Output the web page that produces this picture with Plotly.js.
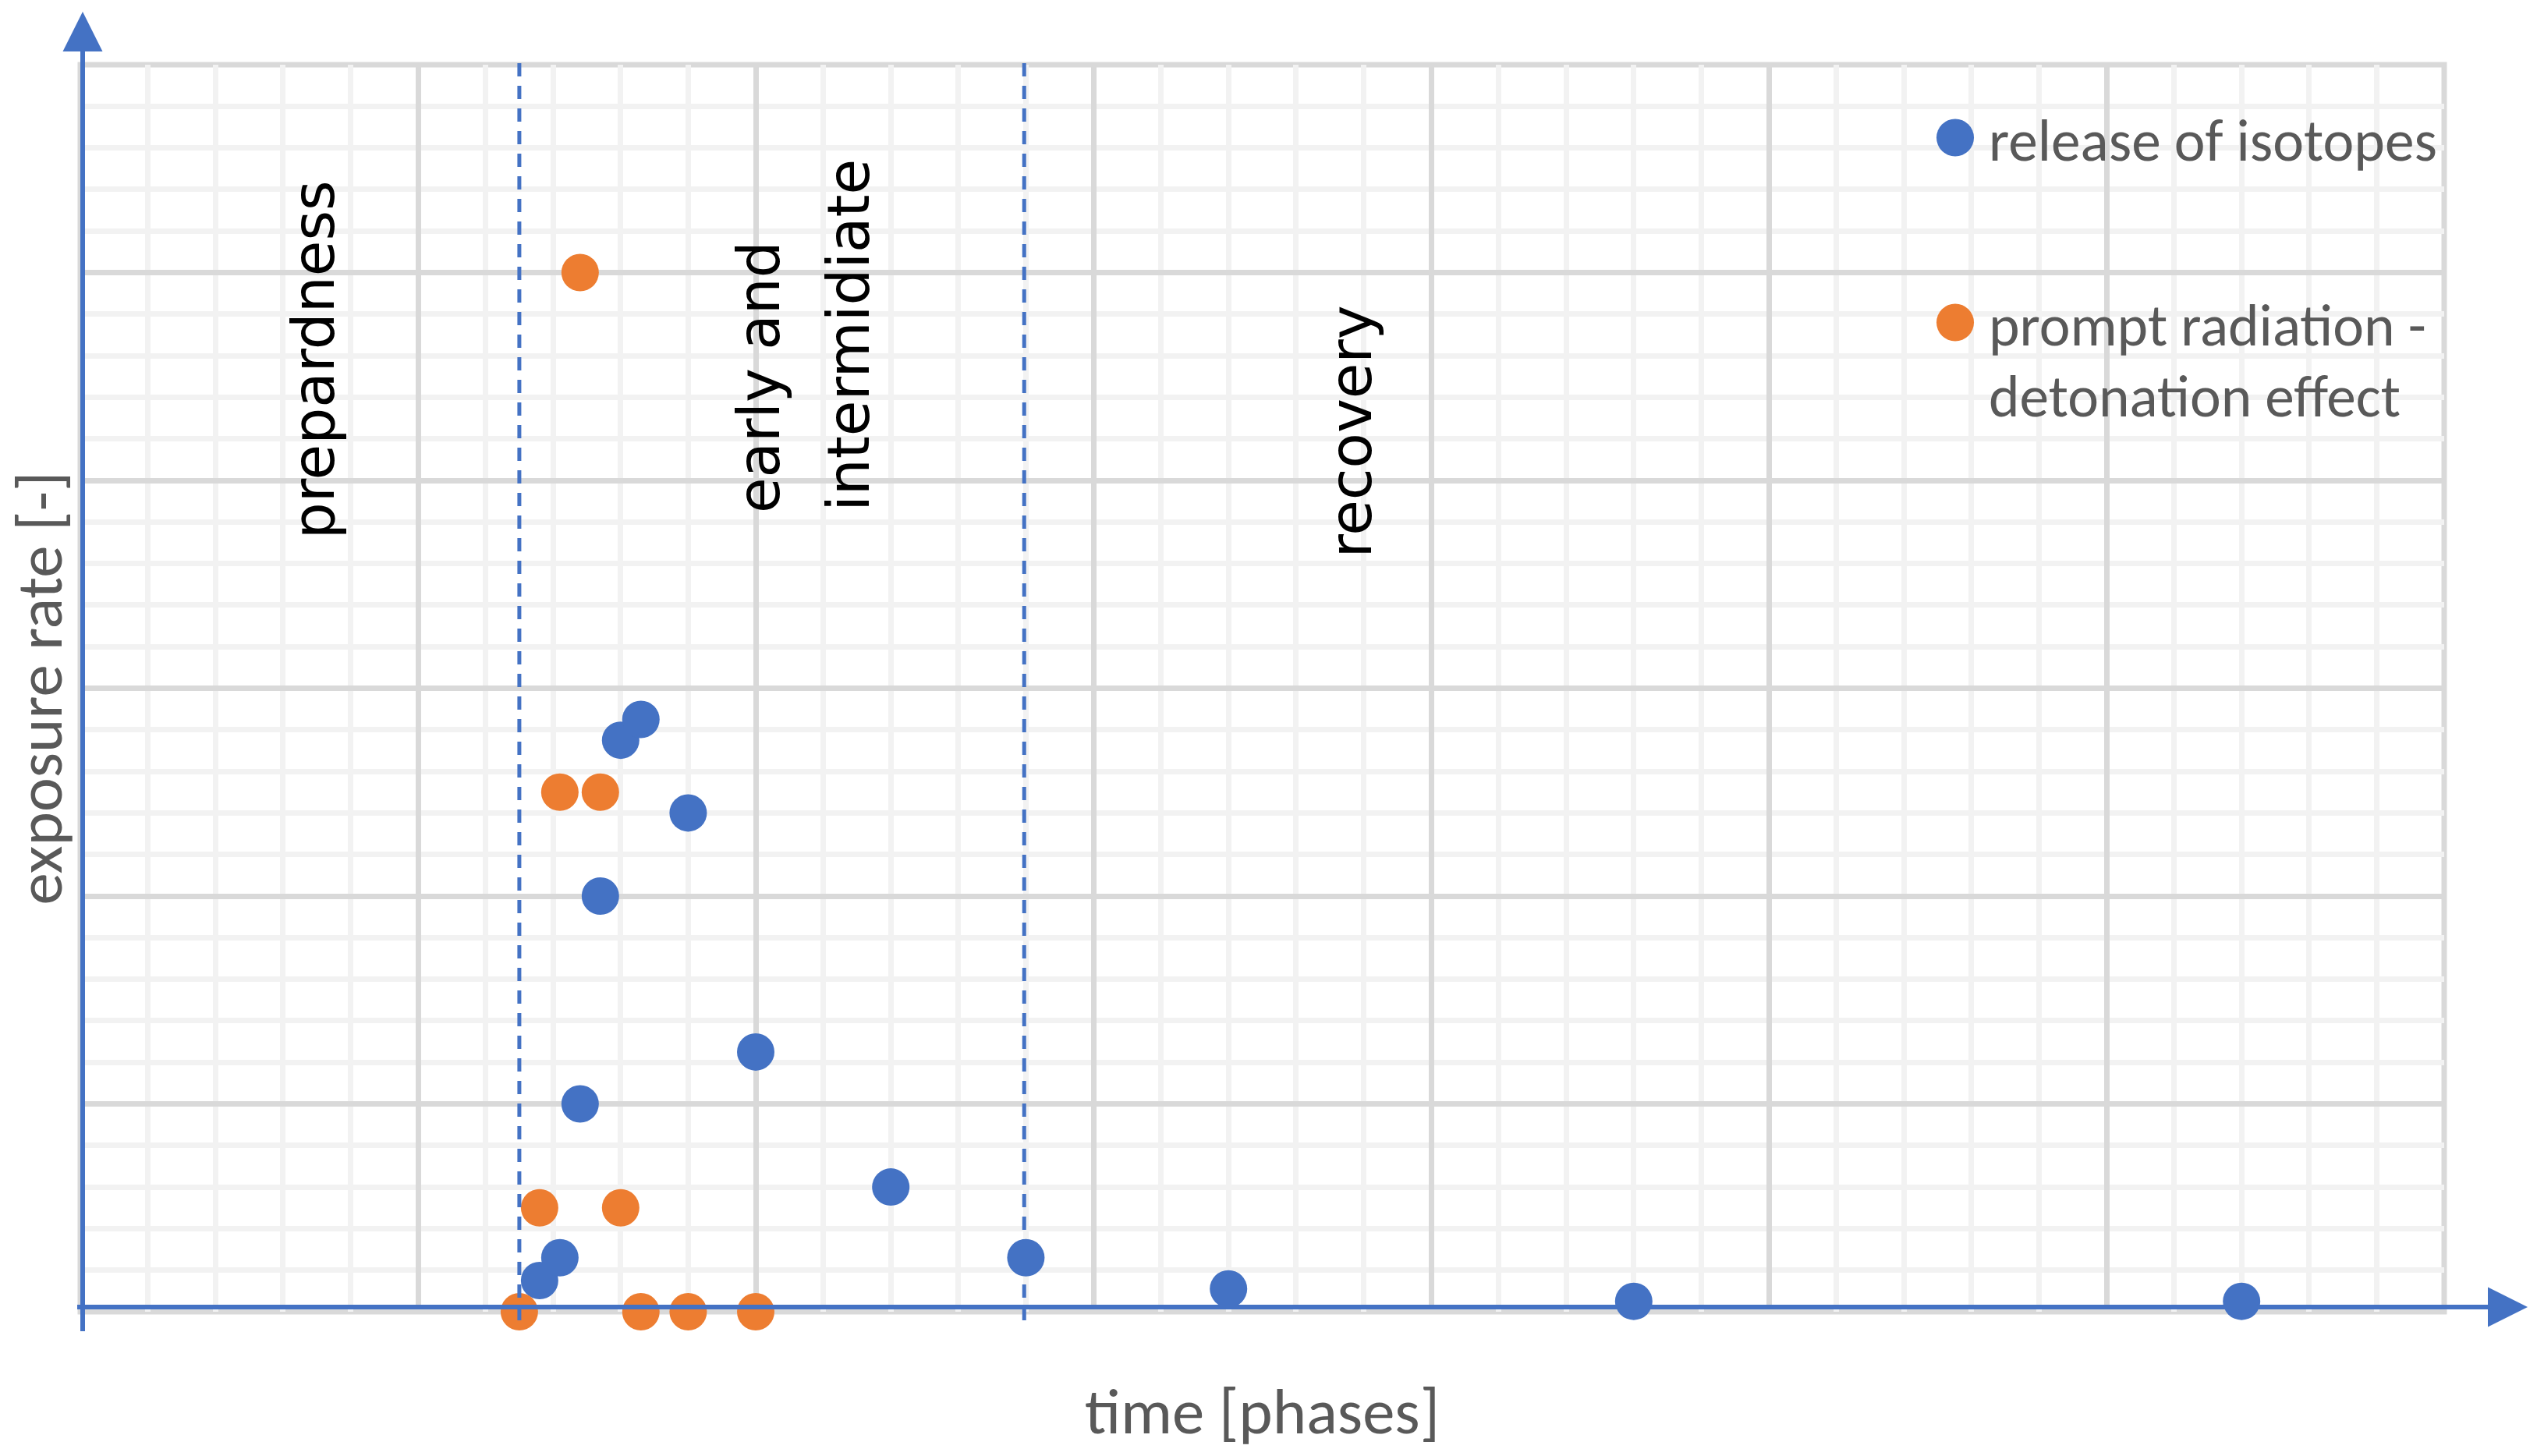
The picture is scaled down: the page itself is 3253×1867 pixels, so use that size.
<!DOCTYPE html>
<html>
<head>
<meta charset="utf-8">
<script src="https://cdn.plot.ly/plotly-3.0.1.min.js"></script>
<style>
  html, body { margin: 0; padding: 0; background: #ffffff; }
  #chart { width: 3253px; height: 1867px; }
</style>
</head>
<body>
<div id="chart"></div>
<script>
// ---------------- data ----------------
const seriesNames = ['release of isotopes', 'prompt radiation -<br>detonation effect'];
const isotopesX = [1.36, 1.42, 1.48, 1.54, 1.60, 1.66, 1.80, 2.00, 2.40, 2.80, 3.40, 4.60, 6.40];
const isotopesY = [0.15, 0.26, 1.00, 2.00, 2.75, 2.85, 2.40, 1.25, 0.60, 0.26, 0.11, 0.05, 0.05];
const promptX = [1.30, 1.36, 1.42, 1.48, 1.54, 1.60, 1.66, 1.80, 2.00];
const promptY = [0.00, 0.50, 2.50, 5.00, 2.50, 0.50, 0.00, 0.00, 0.00];
const phaseBounds = [1.30, 2.795];
const phaseLabels = ['prepardness', 'early and', 'intermidiate', 'recovery'];
const xTitle = 'time [phases]';
const yTitle = 'exposure rate [-]';
const xRange = [0, 7];
const yRange = [0, 6];

// ---------------- layout geometry ----------------
const W = 3253, H = 1867;
const M = { l: 103, r: 119, t: 83, b: 185 };
const PW = W - M.l - M.r, PH = H - M.t - M.b;
const BOTTOM = H - M.b;
const pxX = px => (px - M.l) / PW;          // pixel -> paper x
const pxY = py => (BOTTOM - py) / PH;       // pixel -> paper y
const dX = v => (v - xRange[0]) / (xRange[1] - xRange[0]); // data -> paper x

const BLUE = '#4472C4', ORANGE = '#ED7D31';
const textFamily = 'Carlito, Lato, "Open Sans", sans-serif';
const labelFamily = '"DejaVu Sans", Verdana, sans-serif';

function fitSize(text, family, target) {
  const ctx = document.createElement('canvas').getContext('2d');
  ctx.font = '100px ' + family;
  return 100 * target / ctx.measureText(text).width;
}
const xTitleSize = fitSize(xTitle, textFamily, 455);
const yTitleSize = fitSize(yTitle, textFamily, 556);
const legendSize = fitSize(seriesNames[0], textFamily, 575);
const labelSize = fitSize(phaseLabels[0], labelFamily, 460);

// ---------------- traces ----------------
const traces = [
  {
    type: 'scatter', mode: 'markers', name: seriesNames[0],
    x: isotopesX, y: isotopesY, legendgroup: 'g1',
    marker: { color: BLUE, size: 48, line: { width: 0 } },
    cliponaxis: false
  },
  {
    type: 'scatter', mode: 'markers', name: seriesNames[1],
    x: promptX, y: promptY, legendgroup: 'g2',
    marker: { color: ORANGE, size: 48, line: { width: 0 } },
    cliponaxis: false
  }
];

// ---------------- shapes ----------------
const shapes = [];
shapes.push({ type: 'rect', xref: 'paper', yref: 'paper', x0: 0, x1: 1, y0: 0, y1: 1,
  line: { color: '#D9D9D9', width: 7 }, layer: 'below' });
phaseBounds.forEach(v => {
  shapes.push({ type: 'line', xref: 'paper', yref: 'paper',
    x0: dX(v), x1: dX(v), y0: pxY(1693), y1: pxY(75),
    line: { color: BLUE, width: 5, dash: '17px,12px' }, layer: 'above' });
});
// y axis line + arrow
shapes.push({ type: 'line', xref: 'paper', yref: 'paper',
  x0: pxX(106), x1: pxX(106), y0: pxY(1707), y1: pxY(60),
  line: { color: BLUE, width: 6 }, layer: 'above' });
shapes.push({ type: 'path', xref: 'paper', yref: 'paper',
  path: `M ${pxX(80.5)},${pxY(66)} L ${pxX(106)},${pxY(15)} L ${pxX(131.5)},${pxY(66)} Z`,
  fillcolor: BLUE, line: { width: 0 }, layer: 'above' });
// x axis line + arrow
shapes.push({ type: 'line', xref: 'paper', yref: 'paper',
  x0: pxX(99), x1: pxX(3196), y0: pxY(1676), y1: pxY(1676),
  line: { color: BLUE, width: 6 }, layer: 'above' });
shapes.push({ type: 'path', xref: 'paper', yref: 'paper',
  path: `M ${pxX(3190)},${pxY(1650.5)} L ${pxX(3241)},${pxY(1676)} L ${pxX(3190)},${pxY(1701.5)} Z`,
  fillcolor: BLUE, line: { width: 0 }, layer: 'above' });

// ---------------- phase labels ----------------
const labelPos = [
  { x: 0.690, y: 3.709 },
  { x: 2.009, y: 3.836 },
  { x: 2.273, y: 3.844 },
  { x: 3.760, y: 3.619 }
];
const annotations = phaseLabels.map((t, i) => ({
  text: t, xref: 'x', yref: 'y', x: labelPos[i].x, y: labelPos[i].y,
  xanchor: 'center', yanchor: 'bottom', textangle: -90, showarrow: false,
  font: { family: labelFamily, size: labelSize, color: '#000000' }
}));

const axisCommon = {
  showgrid: true, gridcolor: '#D9D9D9', gridwidth: 7,
  showticklabels: false, ticks: '', zeroline: false, showline: false,
  fixedrange: true
};

const layout = {
  width: W, height: H,
  margin: { l: M.l, r: M.r, t: M.t, b: M.b, pad: 0 },
  paper_bgcolor: '#ffffff', plot_bgcolor: '#ffffff',
  showlegend: true,
  hovermode: false,
  xaxis: Object.assign({}, axisCommon, {
    range: xRange, tick0: 0, dtick: 1,
    minor: { dtick: 0.2, showgrid: true, gridcolor: '#F2F2F2', gridwidth: 7, ticks: '' },
    title: { text: xTitle, font: { family: textFamily, size: xTitleSize, color: '#595959' }, standoff: 98 }
  }),
  yaxis: Object.assign({}, axisCommon, {
    range: yRange, tick0: 0, dtick: 1,
    minor: { dtick: 0.2, showgrid: true, gridcolor: '#F2F2F2', gridwidth: 7, ticks: '' },
    title: { text: yTitle, font: { family: textFamily, size: yTitleSize, color: '#595959' }, standoff: 18 }
  }),
  legend: {
    x: pxX(2510), xanchor: 'left', y: pxY(121), yanchor: 'top',
    bgcolor: 'rgba(0,0,0,0)', borderwidth: 0,
    font: { family: textFamily, size: legendSize, color: '#595959' },
    traceorder: 'grouped', tracegroupgap: 136, valign: 'top', itemsizing: 'constant'
  },
  shapes: shapes,
  annotations: annotations
};

Plotly.newPlot('chart', traces, layout, { displayModeBar: false, staticPlot: true }).then(gd => {
  // lift legend clipping so the enlarged symbols are fully shown
  gd.querySelectorAll('.legend, .legend *').forEach(el => el.removeAttribute('clip-path'));
  gd.querySelectorAll('.legend .legendpoints path.scatterpts').forEach(p => {
    const bb = p.getBBox();
    const s = 48 / Math.max(bb.width, 1);
    p.setAttribute('transform', `translate(-3,0) scale(${s})`);
  });
  // tighter line spacing for the two-line legend entry
  gd.querySelectorAll('.legend text.legendtext tspan.line').forEach(t => {
    const dy = parseFloat(t.getAttribute('dy'));
    if (!isNaN(dy) && dy > 0) t.setAttribute('dy', (dy / 1.3 * 1.21) + 'em');
  });
});
</script>
</body>
</html>
